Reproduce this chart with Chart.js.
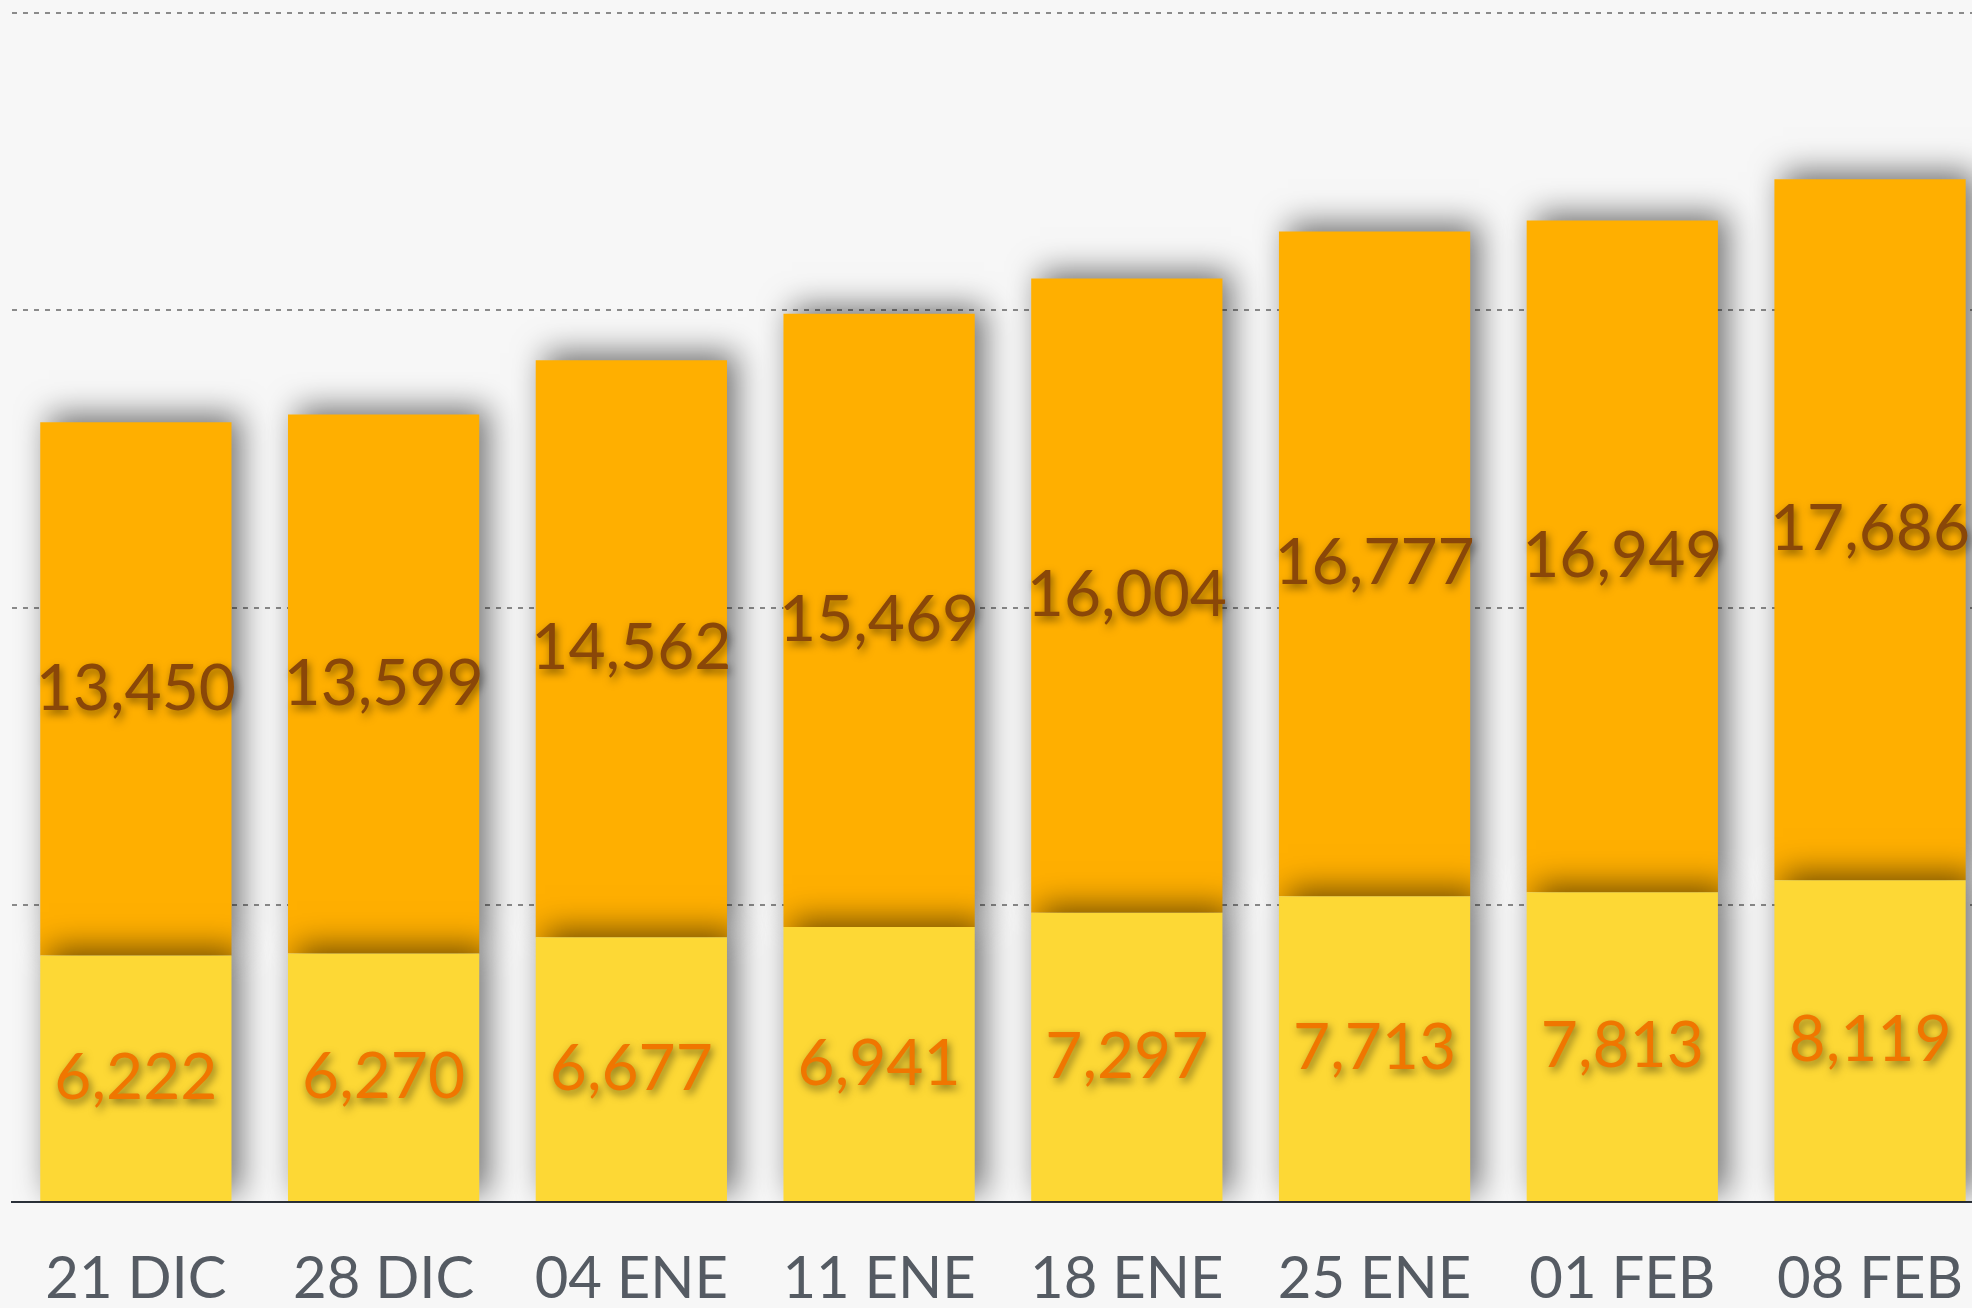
<!DOCTYPE html>
<html>
<head>
<meta charset="utf-8">
<script src="https://cdn.jsdelivr.net/npm/chart.js@4/dist/chart.umd.min.js"></script>
<style>
  html, body { margin: 0; padding: 0; background: #f7f7f7; overflow: hidden; width: 1972px; height: 1308px; }
  #wrap { width: 2005px; height: 1308px; }
</style>
</head>
<body>
<div id="wrap"><canvas id="c" width="2005" height="1308"></canvas></div>
<script>
const categories = ['21 DIC', '28 DIC', '04 ENE', '11 ENE', '18 ENE', '25 ENE', '01 FEB', '08 FEB'];
const baseValues = [6222, 6270, 6677, 6941, 7297, 7713, 7813, 8119];
const topValues = [13450, 13599, 14562, 15469, 16004, 16777, 16949, 17686];
const yMax = 30000;
const yStep = 7500;

const FONT = 'Lato, "Open Sans", sans-serif';

const shadowPlugin = {
  id: 'barShadow',
  beforeDatasetDraw(chart, args) {
    const ctx = chart.ctx;
    ctx.save();
    ctx.shadowColor = 'rgba(0,0,0,0.55)';
    ctx.shadowBlur = 30;
    ctx.shadowOffsetX = 9;
    ctx.shadowOffsetY = -7;
  },
  afterDatasetDraw(chart, args) {
    chart.ctx.restore();
  }
};

const labelPlugin = {
  id: 'barLabels',
  afterDatasetsDraw(chart) {
    const ctx = chart.ctx;
    const colors = ['#f07600', '#8a4708'];
    chart.data.datasets.forEach((ds, di) => {
      const meta = chart.getDatasetMeta(di);
      meta.data.forEach((bar, i) => {
        const v = ds.data[i];
        const cx = bar.x;
        const cy = (bar.y + bar.base) / 2;
        ctx.save();
        ctx.font = '400 64px ' + FONT;
        ctx.textAlign = 'center';
        ctx.textBaseline = 'middle';
        ctx.shadowColor = 'rgba(0,0,0,0.5)';
        ctx.shadowBlur = 8;
        ctx.shadowOffsetX = 2;
        ctx.shadowOffsetY = 4;
        ctx.fillStyle = colors[di];
        ctx.fillText(v.toLocaleString('en-US'), cx, cy);
        ctx.restore();
      });
    });
  }
};

new Chart(document.getElementById('c'), {
  type: 'bar',
  data: {
    labels: categories,
    datasets: [
      { data: baseValues, backgroundColor: '#fdd835', borderWidth: 0, categoryPercentage: 1, barPercentage: 0.772 },
      { data: topValues, backgroundColor: '#ffaf00', borderWidth: 0, categoryPercentage: 1, barPercentage: 0.772 }
    ]
  },
  options: {
    responsive: false,
    animation: false,
    layout: { padding: { left: 12, top: 13, right: 0, bottom: 0 } },
    plugins: { legend: { display: false }, tooltip: { enabled: false } },
    scales: {
      x: {
        stacked: true,
        grid: { display: false, drawTicks: false },
        border: { display: true, color: '#2b3139', width: 2 },
        ticks: { color: '#555b63', padding: 42, font: { family: FONT, size: 58, weight: '400' } },
        afterFit(scale) { scale.height = 106; }
      },
      y: {
        stacked: true,
        min: 0,
        max: yMax,
        ticks: { display: false, stepSize: yStep },
        border: { display: false, dash: [5, 6] },
        grid: {
          drawTicks: false,
          lineWidth: 2,
          color: (c) => (c.tick && c.tick.value === 0) ? 'rgba(0,0,0,0)' : 'rgba(120,120,120,0.85)'
        },
        afterFit(scale) { scale.width = 0; }
      }
    }
  },
  plugins: [shadowPlugin, labelPlugin]
});
</script>
</body>
</html>
